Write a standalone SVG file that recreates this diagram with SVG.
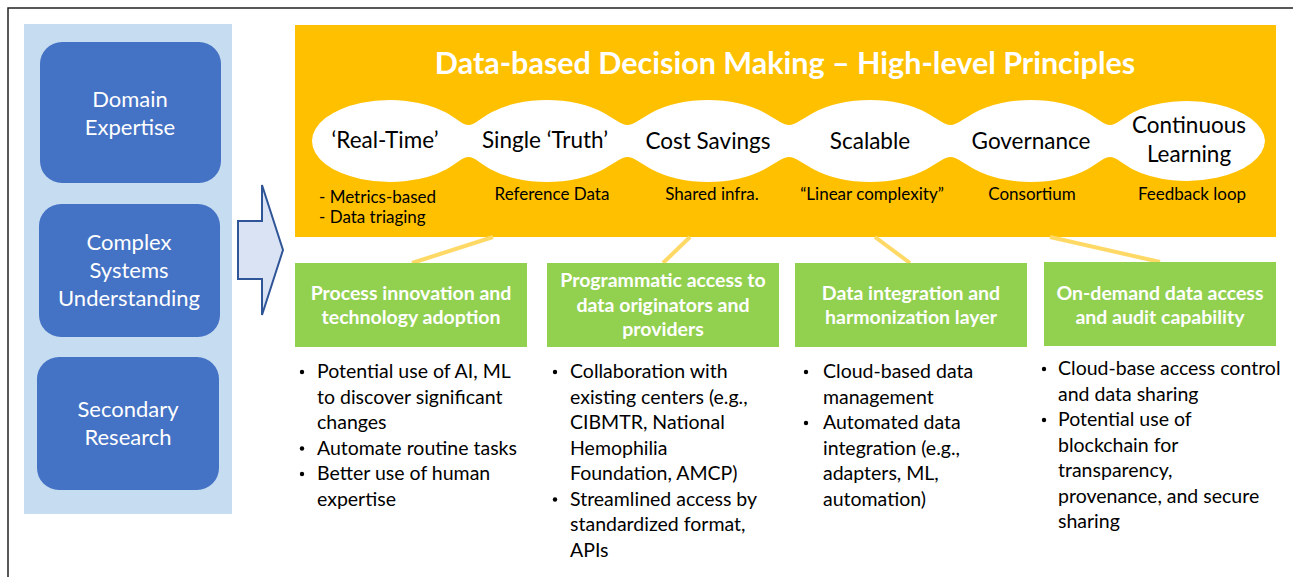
<svg xmlns="http://www.w3.org/2000/svg" width="1293" height="577" viewBox="0 0 1293 577">
<style>
text{font-family:Lato,"Liberation Sans",sans-serif}
.blue{fill:#4472C4}
.wt{fill:#fff;font-size:22px;text-anchor:middle}
.title{fill:#fff;font-size:30.5px;font-weight:bold;text-anchor:middle}
.el{fill:#000;font-size:22.5px;text-anchor:middle}
.sub{fill:#000;font-size:17px;text-anchor:middle}
.subl{fill:#000;font-size:17px}
.green{fill:#92D050}
.gt{fill:#fff;font-size:19.5px;font-weight:bold;text-anchor:middle}
.bl{fill:#000;font-size:19.5px}
.dot{fill:#000}
.conn{stroke:#FFD966;stroke-width:4;fill:none}
</style>
<path d="M8,577 V8 H1293" fill="none" stroke="#222" stroke-width="1.5"/>
<rect x="24" y="24" width="208" height="490" fill="#C6DCF1"/>
<g id="domain-expertise">
<rect class="blue" x="40" y="42" width="181" height="141" rx="22"/>
<text class="wt" x="130" y="107">Domain</text>
<text class="wt" x="130" y="135">Expertise</text>
</g>
<g id="complex-systems">
<rect class="blue" x="39" y="204" width="181" height="133" rx="22"/>
<text class="wt" x="129" y="250">Complex</text>
<text class="wt" x="129" y="278">Systems</text>
<text class="wt" x="129" y="306">Understanding</text>
</g>
<g id="secondary-research">
<rect class="blue" x="37" y="357" width="182" height="133" rx="22"/>
<text class="wt" x="128" y="417">Secondary</text>
<text class="wt" x="128" y="445">Research</text>
</g>
<g id="big-arrow">
<path d="M238,221 H262 V185 L283,250 L262,315 V279 H238 Z" fill="#DAE3F3" stroke="#2F5597" stroke-width="2"/>
</g>
<g id="principles">
<rect x="295" y="25" width="981" height="212" fill="#FFC000"/>
<text class="title" x="785" y="74">Data-based Decision Making – High-level Principles</text>
<path fill="#fff" d="M312,141 A78 41 0 0 1 446,112.5 C454,116.8 462.5,125 468.5,125 C474.5,125 483,116.8 491,112.5 A78 41 0 0 1 603,112.5 C611,116.8 621.5,125 627.5,125 C633.5,125 644,116.8 652,112.5 A78 41 0 0 1 764,112.5 C772,116.8 783,125 789,125 C795,125 806,116.8 814,112.5 A78 41 0 0 1 926,112.5 C934,116.8 944.5,125 950.5,125 C956.5,125 967,116.8 975,112.5 A78 41 0 0 1 1087,112.5 C1095,116.8 1104,125 1110,125 C1116,125 1125,116.8 1133,112.5 A78 41 0 0 1 1265,141 A78 41 0 0 1 1133,169.5 C1125,165.2 1116,157 1110,157 C1104,157 1095,165.2 1087,169.5 A78 41 0 0 1 975,169.5 C967,165.2 956.5,157 950.5,157 C944.5,157 934,165.2 926,169.5 A78 41 0 0 1 814,169.5 C806,165.2 795,157 789,157 C783,157 772,165.2 764,169.5 A78 41 0 0 1 652,169.5 C644,165.2 633.5,157 627.5,157 C621.5,157 611,165.2 603,169.5 A78 41 0 0 1 491,169.5 C483,165.2 474.5,157 468.5,157 C462.5,157 454,165.2 446,169.5 A78 41 0 0 1 312,141 Z"/>
<text class="el" x="385" y="148">‘Real-Time’</text>
<text class="el" x="545" y="148">Single ‘Truth’</text>
<text class="el" x="708" y="149">Cost Savings</text>
<text class="el" x="870" y="149">Scalable</text>
<text class="el" x="1031" y="149">Governance</text>
<text class="el" x="1189" y="133">Continuous</text>
<text class="el" x="1189" y="162">Learning</text>
<text class="subl" x="319" y="203">- Metrics-based</text>
<text class="subl" x="319" y="223">- Data triaging</text>
<text class="sub" x="552" y="200">Reference Data</text>
<text class="sub" x="712" y="200">Shared infra.</text>
<text class="sub" x="872" y="200">“Linear complexity”</text>
<text class="sub" x="1032" y="200">Consortium</text>
<text class="sub" x="1192" y="200">Feedback loop</text>
</g>
<g id="connectors">
<line class="conn" x1="493" y1="237" x2="412" y2="263"/>
<line class="conn" x1="690" y1="237" x2="663" y2="263"/>
<line class="conn" x1="875" y1="237" x2="910" y2="263"/>
<line class="conn" x1="1050" y1="237" x2="1160" y2="262"/>
</g>
<g id="process-innovation">
<rect class="green" x="295" y="263" width="232" height="84"/>
<text class="gt" x="411" y="300">Process innovation and</text>
<text class="gt" x="411" y="324">technology adoption</text>
<circle class="dot" cx="302" cy="372" r="2.2"/>
<text class="bl" x="317" y="378">Potential use of AI, ML</text>
<text class="bl" x="317" y="403.5">to discover significant</text>
<text class="bl" x="317" y="429">changes</text>
<circle class="dot" cx="302" cy="448.5" r="2.2"/>
<text class="bl" x="317" y="454.5">Automate routine tasks</text>
<circle class="dot" cx="302" cy="474" r="2.2"/>
<text class="bl" x="317" y="480">Better use of human</text>
<text class="bl" x="317" y="505.5">expertise</text>
</g>
<g id="programmatic-access">
<rect class="green" x="547" y="263" width="232" height="84"/>
<text class="gt" x="663" y="287">Programmatic access to</text>
<text class="gt" x="663" y="312">data originators and</text>
<text class="gt" x="663" y="336">providers</text>
<circle class="dot" cx="555" cy="372" r="2.2"/>
<text class="bl" x="570" y="378">Collaboration with</text>
<text class="bl" x="570" y="403.5">existing centers (e.g.,</text>
<text class="bl" x="570" y="429">CIBMTR, National</text>
<text class="bl" x="570" y="454.5">Hemophilia</text>
<text class="bl" x="570" y="480">Foundation, AMCP)</text>
<circle class="dot" cx="555" cy="499.5" r="2.2"/>
<text class="bl" x="570" y="505.5">Streamlined access by</text>
<text class="bl" x="570" y="531">standardized format,</text>
<text class="bl" x="570" y="556.5">APIs</text>
</g>
<g id="data-integration">
<rect class="green" x="795" y="263" width="232" height="84"/>
<text class="gt" x="911" y="300">Data integration and</text>
<text class="gt" x="911" y="324">harmonization layer</text>
<circle class="dot" cx="806" cy="372" r="2.2"/>
<text class="bl" x="823" y="378">Cloud-based data</text>
<text class="bl" x="823" y="403.5">management</text>
<circle class="dot" cx="806" cy="423" r="2.2"/>
<text class="bl" x="823" y="429">Automated data</text>
<text class="bl" x="823" y="454.5">integration (e.g.,</text>
<text class="bl" x="823" y="480">adapters, ML,</text>
<text class="bl" x="823" y="505.5">automation)</text>
</g>
<g id="on-demand-access">
<rect class="green" x="1044" y="262" width="232" height="84"/>
<text class="gt" x="1160" y="300">On-demand data access</text>
<text class="gt" x="1160" y="324">and audit capability</text>
<circle class="dot" cx="1044" cy="369" r="2.2"/>
<text class="bl" x="1058" y="375">Cloud-base access control</text>
<text class="bl" x="1058" y="400.5">and data sharing</text>
<circle class="dot" cx="1044" cy="420" r="2.2"/>
<text class="bl" x="1058" y="426">Potential use of</text>
<text class="bl" x="1058" y="451.5">blockchain for</text>
<text class="bl" x="1058" y="477">transparency,</text>
<text class="bl" x="1058" y="502.5">provenance, and secure</text>
<text class="bl" x="1058" y="528">sharing</text>
</g>
</svg>
